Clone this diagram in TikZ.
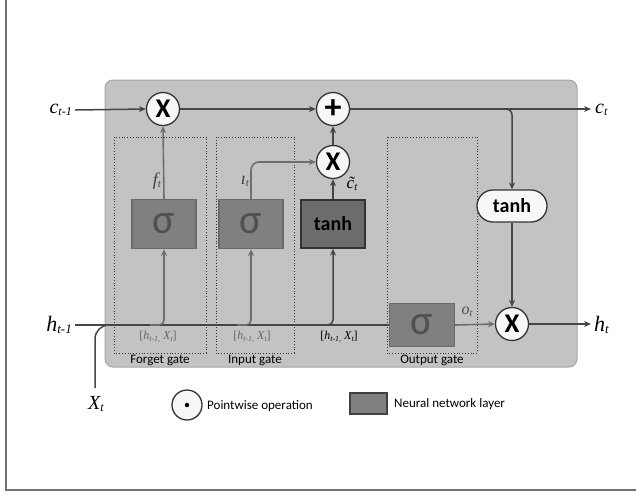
\documentclass[tikz,border=0pt]{standalone}
\usepackage{fontspec}
\setmainfont{Liberation Serif}
\newfontfamily\calib{Carlito}
\usetikzlibrary{arrows.meta,shapes.misc}
\definecolor{cellfill}{HTML}{C3C3C3}
\definecolor{celldraw}{HTML}{A5A5A5}
\definecolor{linedark}{HTML}{454545}
\definecolor{linegray}{HTML}{6E6E6E}
\definecolor{sigfill}{HTML}{808080}
\definecolor{sigdraw}{HTML}{6A6A6A}
\definecolor{sigtext}{HTML}{505050}
\definecolor{tanhfill}{HTML}{6C6C6C}
\newcommand{\sublab}[4]{{\fontsize{#3}{#3}\selectfont\itshape #1\raisebox{-0.12em}{\fontsize{#4}{#4}\selectfont #2}}}
\tikzset{
  cellbox/.style={fill=cellfill,draw=celldraw,line width=1pt,rounded corners=8pt},
  gatebox/.style={draw=black!80,dotted,line width=0.8pt},
  sigbox/.style={rectangle,fill=sigfill,draw=sigdraw,line width=1.3pt,minimum width=64pt,minimum height=49pt,inner sep=0pt,text=sigtext,font=\calib\fontsize{42}{42}\selectfont},
  tanhbox/.style={rectangle,fill=tanhfill,draw=black!80,line width=1.3pt,minimum width=64pt,minimum height=48pt,inner sep=0pt,font=\calib\bfseries\fontsize{20}{20}\selectfont},
  tanhpill/.style={rounded rectangle,fill=white!97!black,draw=black!80,line width=1.3pt,minimum width=70pt,minimum height=32pt,inner sep=0pt,font=\calib\bfseries\fontsize{20}{20}\selectfont},
  opnode/.style={circle,fill=white!97!black,draw=black!80,line width=1.3pt,minimum size=33pt,inner sep=0pt,font=\calib\bfseries\fontsize{27}{27}\selectfont},
  dline/.style={draw=linedark,line width=1.5pt},
  gline/.style={draw=linegray,line width=1.6pt},
  arr/.style={-{Stealth[length=7pt,width=6pt]}},
  gatelab/.style={font=\calib\fontsize{13}{13}\selectfont,inner sep=0pt},
  inlab/.style={font=\fontsize{12}{12}\selectfont,inner sep=0pt},
  varlab/.style={inner sep=0pt},
}
\begin{document}
\begin{tikzpicture}[x=1pt,y=-1pt]
\useasboundingbox (0,0) rectangle (636,496);
% outer frame (left and bottom only)
\draw[draw=black!55,line width=2pt] (6,0) -- (6,490) -- (636,490);
% cell
\draw[cellbox] (105,80) rectangle (577,367);
% gate boxes
\draw[gatebox] (114,137) rectangle (206,353);
\draw[gatebox] (216,137) rectangle (294,353);
\draw[gatebox] (387,137) rectangle (477,353);
\node[gatelab] (fgl) at (160,360) {Forget gate};
\node[gatelab] (igl) at (255,360) {Input gate};
\node[gatelab] (ogl) at (432,360) {Output gate};
% layers
\node[sigbox] (sigf) at (164,224) {σ};
\node[sigbox] (sigi) at (251,224) {σ};
\node[tanhbox] (tanhl) at (333,224) {tanh};
\node[sigbox,minimum width=65pt,minimum height=43pt] (sigo) at (422,325) {σ};
% ops
\node[opnode] (mf) at (163,109) {X};
\node[opnode,font=\calib\bfseries\fontsize{34}{34}\selectfont] (pl) at (333,109) {+};
\node[opnode] (mi) at (333,162) {X};
\node[opnode] (mo) at (512,324) {X};
\node[tanhpill] (tanhc) at (512,206) {tanh};
% inputs / outputs labels
\node[varlab,anchor=east] (cprev) at (72,110) {\sublab{c}{t-1}{20}{12}};
\node[varlab,anchor=west] (cnext) at (595,110) {\sublab{c}{t}{20}{12}};
\node[varlab,anchor=east] (hprev) at (72,325) {\sublab{h}{t-1}{22}{13}};
\node[varlab,anchor=west] (hnext) at (594,325) {\sublab{h}{t}{22}{13}};
\node[varlab] (xt) at (96,404) {\sublab{X}{t}{20}{12}};
\coordinate (cend) at (591,109);
\coordinate (hend) at (591,324);
\coordinate (branch) at (512,109);
% cell state line
\draw[dline,arr] (cprev.east) ++(3,0) -- (mf.west);
\draw[dline,arr] (mf.east) -- (pl.west);
\draw[dline,arr] (pl.east) -- (cend);
\draw[dline,arr,rounded corners=6pt] (branch) ++(-20,0) -| (tanhc.north);
\draw[dline,arr] (tanhc.south) -- (mo.north);
\draw[dline,arr] (mo.east) -- (hend);
% hidden line
\draw[dline] (hprev.east) ++(3,0) -- (sigo.west);
\draw[dline,rounded corners=14pt] (xt.north) ++(-1,-8) |- (125,325);
% branches to layers
\draw[gline,arr,rounded corners=5pt] (150,325) -| (sigf.south);
\draw[gline,arr,rounded corners=5pt] (237,325) -| (sigi.south);
\draw[dline,arr,rounded corners=5pt] (319,325) -| (tanhl.south);
% gate outputs
\draw[gline,arr] (sigf.north) -- (mf.south);
\draw[gline,arr,rounded corners=8pt] (sigi.north) |- (mi.west);
\draw[dline,arr] (tanhl.north) -- (mi.south);
\draw[dline,arr] (mi.north) -- (pl.south);
\draw[gline,arr] (sigo.east) -- (mo.west);
% small labels
\node[varlab,text=black!75] (flab) at (157,181) {\sublab{f}{t}{18}{11}};
\node[varlab,text=black!75] (ilab) at (245,181) {\sublab{ı}{t}{18}{11}};
\node[varlab] (clab) at (352,184) {\sublab{\~{c}}{t}{17}{11}};
\node[varlab,text=black!70] (olab) at (467,312) {\sublab{o}{t}{16}{10}};
\node[inlab,text=black!60] (in1) at (158,337) {[\sublab{h}{t-1,}{12}{8} \sublab{X}{t}{12}{8}]};
\node[inlab,text=black!60] (in2) at (252,337) {[\sublab{h}{t-1,}{12}{8} \sublab{X}{t}{12}{8}]};
\node[inlab] (in3) at (339,337) {[\sublab{h}{t-1,}{12}{8} \sublab{X}{t}{12}{8}]};
% legend
\node[opnode,minimum size=30pt] (lc) at (187,405) {};
\fill (lc.center) circle (2.2pt);
\node[gatelab,anchor=west] (lct) at (207,406) {Pointwise operation};
\node[rectangle,fill=sigfill,draw=black!75,line width=1.5pt,minimum width=37pt,minimum height=21pt,inner sep=0pt] (lr) at (368.5,403.5) {};
\node[gatelab,anchor=west] (lrt) at (394,404) {Neural network layer};
\end{tikzpicture}
\end{document}
